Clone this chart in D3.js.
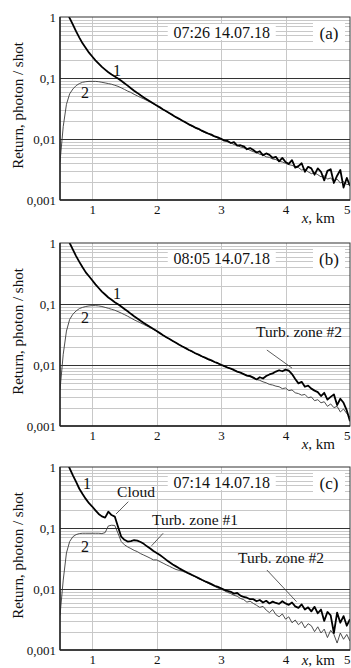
<!DOCTYPE html>
<html>
<head>
<meta charset="utf-8">
<script src="https://cdn.jsdelivr.net/npm/d3@7"></script>
<style>
  body { margin: 0; background: #fff; }
  svg { display: block; }
  svg text { font-family: 'Liberation Serif', 'Times New Roman', 'DejaVu Serif', serif; }
</style>
</head>
<body>
<div id="chart"></div>
<script>
// range grid, km
const rangeKm = d3.range(50, 501, 5).map(v => v / 100);

const yTicks = [1, 0.1, 0.01, 0.001];
const xTicks = [1, 2, 3, 4, 5];

// panel (a) 07:26 14.07.18
const aSig1 = [
  2.4, 1.75, 1.28, 0.96, 0.75, 0.58, 0.46, 0.37, 0.31, 0.26,
  0.225, 0.195, 0.172, 0.152, 0.137, 0.124, 0.114, 0.106, 0.098, 0.090,
  0.082, 0.075, 0.068, 0.062, 0.057, 0.052, 0.048, 0.0445, 0.0412, 0.0382,
  0.0355, 0.033, 0.0305, 0.0284, 0.0264, 0.0246, 0.0228, 0.0214, 0.0199, 0.0187,
  0.0174, 0.0164, 0.0154, 0.0147, 0.0137, 0.0130, 0.0123, 0.0118, 0.0110, 0.0106,
  0.0101, 0.0094, 0.0093, 0.0086, 0.0089, 0.0078, 0.0079, 0.0076, 0.0068, 0.0071,
  0.0066, 0.0060, 0.0063, 0.0054, 0.0058, 0.0055, 0.0049, 0.0051, 0.0043, 0.0049,
  0.0042, 0.0039, 0.0045, 0.0034, 0.0036, 0.0040, 0.0029, 0.0035, 0.0033, 0.0026,
  0.0033, 0.0029, 0.0021, 0.0030, 0.0032, 0.0019, 0.0025, 0.0031, 0.0016, 0.0023,
  0.0017
];
const aSig2 = [
  0.0042, 0.016, 0.037, 0.055, 0.066, 0.075, 0.081, 0.085, 0.087, 0.088,
  0.088, 0.088, 0.087, 0.085, 0.083, 0.081, 0.079, 0.076, 0.073, 0.069,
  0.065, 0.061, 0.058, 0.054, 0.051, 0.048, 0.0455, 0.0428, 0.0402, 0.0378,
  0.0352, 0.0327, 0.0303, 0.0282, 0.0262, 0.0244, 0.0227, 0.0212, 0.0198, 0.0185,
  0.0171, 0.0162, 0.0150, 0.0144, 0.0134, 0.0127, 0.0121, 0.0114, 0.0110, 0.0103,
  0.0099, 0.0095, 0.0090, 0.0087, 0.0081, 0.0079, 0.0074, 0.0072, 0.0070, 0.0065,
  0.0062, 0.0060, 0.0056, 0.0055, 0.0051, 0.0050, 0.0047, 0.0046, 0.0043, 0.0042,
  0.0040, 0.0038, 0.0037, 0.0035, 0.0034, 0.0031, 0.0032, 0.0029, 0.0027, 0.0028,
  0.0026, 0.0024, 0.0025, 0.0022, 0.0023, 0.0020, 0.0022, 0.0019, 0.0020, 0.0018,
  0.0018
];

// panel (b) 08:05 14.07.18
const bSig1 = [
  2.5, 1.8, 1.32, 1.0, 0.78, 0.61, 0.49, 0.40, 0.33, 0.285,
  0.245, 0.21, 0.183, 0.16, 0.143, 0.128, 0.117, 0.107, 0.099, 0.091,
  0.083, 0.076, 0.069, 0.063, 0.058, 0.053, 0.049, 0.0452, 0.0418, 0.0388,
  0.036, 0.0333, 0.0308, 0.0286, 0.0266, 0.0248, 0.0231, 0.0215, 0.0201, 0.0189,
  0.0176, 0.0167, 0.0156, 0.0148, 0.0139, 0.0132, 0.0125, 0.0119, 0.0112, 0.0107,
  0.0101, 0.0096, 0.0091, 0.0087, 0.0083, 0.0078, 0.0075, 0.0071, 0.0067, 0.0066,
  0.0062, 0.0058, 0.0063, 0.0060, 0.0066, 0.0070, 0.0073, 0.0078, 0.0082, 0.0079,
  0.0084, 0.0081, 0.0071, 0.0059, 0.0050, 0.0053, 0.0044, 0.0046, 0.0041, 0.0038,
  0.0036, 0.0031, 0.0035, 0.0027, 0.0030, 0.0033, 0.0022, 0.0028, 0.0024, 0.0018,
  0.0012
];
const bSig2 = [
  0.0039, 0.015, 0.036, 0.056, 0.068, 0.077, 0.084, 0.088, 0.091, 0.093,
  0.094, 0.094, 0.093, 0.091, 0.088, 0.085, 0.082, 0.079, 0.075, 0.071,
  0.067, 0.063, 0.059, 0.055, 0.052, 0.049, 0.0462, 0.0435, 0.041, 0.0385,
  0.0358, 0.0332, 0.0307, 0.0285, 0.0266, 0.0247, 0.023, 0.0215, 0.0201, 0.0187,
  0.0175, 0.0165, 0.0154, 0.0147, 0.0137, 0.0131, 0.0122, 0.0117, 0.0111, 0.0105,
  0.0100, 0.0095, 0.0090, 0.0087, 0.0081, 0.0078, 0.0075, 0.0071, 0.0067, 0.0064,
  0.0061, 0.0058, 0.0056, 0.0053, 0.0051, 0.0048, 0.0047, 0.0045, 0.0044, 0.0041,
  0.0042, 0.0038, 0.0039, 0.0035, 0.0034, 0.0032, 0.0033, 0.0029, 0.0030, 0.0026,
  0.0027, 0.0024, 0.0025, 0.0021, 0.0023, 0.0020, 0.0021, 0.0017, 0.0019, 0.0016,
  0.0014
];

// panel (c) 07:14 14.07.18
const cSig1 = [
  2.3, 1.7, 1.25, 0.95, 0.73, 0.57, 0.44, 0.36, 0.30, 0.255,
  0.225, 0.195, 0.170, 0.155, 0.148, 0.185, 0.163, 0.154, 0.105, 0.072,
  0.064, 0.060, 0.061, 0.063, 0.062, 0.059, 0.055, 0.050, 0.046, 0.042,
  0.039, 0.036, 0.033, 0.030, 0.0275, 0.0253, 0.0235, 0.0218, 0.0204, 0.0192,
  0.0180, 0.0170, 0.0160, 0.0151, 0.0142, 0.0134, 0.0127, 0.0120, 0.0113, 0.0108,
  0.0103, 0.0097, 0.0093, 0.0090, 0.0084, 0.0086, 0.0078, 0.0074, 0.0072, 0.0068,
  0.0068, 0.0063, 0.0066, 0.0060, 0.0064, 0.0058, 0.0062, 0.0059, 0.0057, 0.0063,
  0.0058, 0.0055, 0.0060, 0.0052, 0.0049, 0.0056, 0.0046, 0.0050, 0.0043, 0.0051,
  0.0040, 0.0046, 0.0030, 0.0042, 0.0037, 0.0019, 0.0041, 0.0028, 0.0036, 0.0025,
  0.0032
];
const cSig2 = [
  0.0037, 0.014, 0.039, 0.060, 0.072, 0.078, 0.081, 0.082, 0.082, 0.082,
  0.082, 0.082, 0.082, 0.081, 0.084, 0.108, 0.111, 0.110, 0.082, 0.060,
  0.053, 0.049, 0.046, 0.043, 0.041, 0.038, 0.036, 0.034, 0.032, 0.030,
  0.030, 0.0282, 0.0265, 0.0249, 0.0235, 0.0221, 0.0209, 0.0202, 0.0196, 0.0186,
  0.0177, 0.0167, 0.0158, 0.0148, 0.0140, 0.0131, 0.0124, 0.0117, 0.0110, 0.0104,
  0.0099, 0.0094, 0.0088, 0.0084, 0.0079, 0.0076, 0.0070, 0.0067, 0.0061, 0.0063,
  0.0058, 0.0054, 0.0050, 0.0052, 0.0045, 0.0041, 0.0046, 0.0038, 0.0035, 0.0039,
  0.0032, 0.0035, 0.0028, 0.0031, 0.0026, 0.0029, 0.0023, 0.0027, 0.0025, 0.0020,
  0.0024, 0.0019, 0.0022, 0.0016, 0.0021, 0.0018, 0.0013, 0.0019, 0.0015, 0.0018,
  0.0014
];

const panelLetters = ['(a)', '(b)', '(c)'];
const panelDates = ['07:26 14.07.18', '08:05 14.07.18', '07:14 14.07.18'];

// text notes in data units: [text, km, value]
const curveLabels = [
  [['1', 1.385, 0.135], ['2', 0.888, 0.057]],
  [['1', 1.385, 0.151], ['2', 0.888, 0.061]],
  [['1', 0.919, 0.547], ['2', 0.888, 0.049]]
];
const zoneNotes = [
  [],
  [['Turb. zone #2', 4.21, 0.0348, [3.71, 0.0176], [4.1, 0.0089]]],
  [['Cloud', 1.68, 0.389, [1.56, 0.27], [1.37, 0.17]],
   ['Turb. zone #1', 2.595, 0.135, [2.10, 0.082], [1.92, 0.051]],
   ['Turb. zone #2', 3.93, 0.0322, [3.71, 0.0205], [4.17, 0.0062]]]
];

const panels = [
  { sig1: aSig1, sig2: aSig2 },
  { sig1: bSig1, sig2: bSig2 },
  { sig1: cSig1, sig2: cSig2 }
];

const W = 351, H = 668;
const margin = { left: 60, right: 1 };
const tops = [17, 243, 467];
const plotH = 183;
const serif = "'Liberation Serif', 'Times New Roman', 'DejaVu Serif', serif";

const svg = d3.select('#chart').append('svg').attr('width', W).attr('height', H)
  .attr('font-family', serif);

const x = d3.scaleLinear().domain([0.5, 5]).range([margin.left, W - margin.right]);
const yFmt = d3.formatLocale({ decimal: ',', thousands: ' ', grouping: [3], currency: ['', ''] }).format('~g');

panels.forEach((p, i) => {
  const top = tops[i];
  const y = d3.scaleLog().domain([0.001, 1]).range([top + plotH, top]);
  const g = svg.append('g');

  // minor grid
  const minor = [];
  [0.001, 0.01, 0.1].forEach(d => { for (let k = 2; k <= 9; k++) minor.push(d * k); });
  g.selectAll('.minor').data(minor).enter().append('line')
    .attr('x1', x(0.5)).attr('x2', x(5))
    .attr('y1', d => Math.round(y(d)) + 0.5).attr('y2', d => Math.round(y(d)) + 0.5)
    .attr('stroke', '#c8c8c8').attr('stroke-width', 1);

  g.selectAll('.vgrid').data([1, 2, 3, 4]).enter().append('line')
    .attr('x1', d => Math.round(x(d)) + 0.5).attr('x2', d => Math.round(x(d)) + 0.5)
    .attr('y1', y(1)).attr('y2', y(0.001))
    .attr('stroke', '#c8c8c8').attr('stroke-width', 1);

  g.selectAll('.major').data([0.1, 0.01]).enter().append('line')
    .attr('x1', x(0.5)).attr('x2', x(5))
    .attr('y1', d => Math.round(y(d)) + 0.5).attr('y2', d => Math.round(y(d)) + 0.5)
    .attr('stroke', '#333').attr('stroke-width', 1);

  // date box and letter box
  const dateX = x(3.01), dateY = top + 15;
  g.append('rect').attr('x', dateX - 54).attr('y', dateY - 8).attr('width', 108).attr('height', 16).attr('fill', '#fff');
  g.append('text').attr('x', dateX).attr('y', dateY).attr('dy', '0.35em')
    .attr('text-anchor', 'middle').attr('font-size', 16).attr('fill', '#111').text(panelDates[i]);
  g.append('rect').attr('x', 313).attr('y', top + 6).attr('width', 32).attr('height', 20).attr('fill', '#fff');
  g.append('text').attr('x', 329).attr('y', top + 16).attr('dy', '0.35em')
    .attr('text-anchor', 'middle').attr('font-size', 17).attr('fill', '#111').text(panelLetters[i]);

  // curves
  const clipId = 'clip' + i;
  svg.append('clipPath').attr('id', clipId).append('rect')
    .attr('x', x(0.5)).attr('y', top).attr('width', x(5) - x(0.5)).attr('height', plotH);

  const line = d3.line().x((d, j) => x(rangeKm[j])).y(d => y(d));
  const curves = g.append('g').attr('clip-path', `url(#${clipId})`);
  curves.append('path').datum(p.sig2).attr('d', line)
    .attr('fill', 'none').attr('stroke', '#3a3a3a').attr('stroke-width', 0.9);
  curves.append('path').datum(p.sig1).attr('d', line)
    .attr('fill', 'none').attr('stroke', '#000').attr('stroke-width', 1.8).attr('stroke-linejoin', 'round');

  // frame
  g.append('rect').attr('x', x(0.5)).attr('y', y(1)).attr('width', x(5) - x(0.5)).attr('height', plotH)
    .attr('fill', 'none').attr('stroke', '#333').attr('stroke-width', 1);
  g.append('line').attr('x1', x(0.5)).attr('x2', x(5)).attr('y1', y(0.001)).attr('y2', y(0.001))
    .attr('stroke', '#222').attr('stroke-width', 1.6);
  g.append('line').attr('x1', x(0.5)).attr('x2', x(0.5)).attr('y1', y(1)).attr('y2', y(0.001))
    .attr('stroke', '#222').attr('stroke-width', 1.4);

  // axes
  g.append('g').attr('transform', `translate(${x(0.5)},0)`)
    .call(d3.axisLeft(y).tickValues(yTicks).tickFormat(yFmt).tickSize(0).tickPadding(4))
    .call(a => a.select('.domain').remove())
    .call(a => a.attr('font-family', serif))
    .call(a => a.selectAll('text').attr('font-size', 13).attr('fill', '#111'));

  g.append('g').attr('transform', `translate(0,${y(0.001)})`)
    .call(d3.axisBottom(x).tickValues(xTicks).tickFormat(d3.format('d')).tickSize(0).tickPadding(5))
    .call(a => a.select('.domain').remove())
    .call(a => a.attr('font-family', serif))
    .call(a => a.selectAll('text').attr('font-size', 13).attr('fill', '#111'))
    .call(a => a.selectAll('.tick').filter(d => d === 5).select('text').attr('text-anchor', 'end'));

  const xl = g.append('text').attr('x', 335).attr('y', Math.min(y(0.001) + 23, H - 3))
    .attr('text-anchor', 'end').attr('font-size', 15).attr('fill', '#111');
  xl.append('tspan').attr('font-style', 'italic').text('x');
  xl.append('tspan').text(', km');

  g.append('text').attr('transform', `translate(18,${top + plotH / 2 - 3}) rotate(-90)`)
    .attr('dy', '0.35em').attr('text-anchor', 'middle').attr('font-size', 15).attr('fill', '#111')
    .text('Return, photon / shot');

  // curve labels
  g.selectAll('.clab').data(curveLabels[i]).enter().append('text')
    .attr('x', d => x(d[1])).attr('y', d => y(d[2])).attr('dy', '0.35em')
    .attr('text-anchor', 'middle').attr('font-size', 16).attr('fill', '#111').text(d => d[0]);

  // zone notes with leaders
  zoneNotes[i].forEach(n => {
    g.append('line')
      .attr('x1', x(n[3][0])).attr('y1', y(n[3][1])).attr('x2', x(n[4][0])).attr('y2', y(n[4][1]))
      .attr('stroke', '#333').attr('stroke-width', 0.8);
    g.append('text').attr('x', x(n[1])).attr('y', y(n[2])).attr('dy', '0.35em')
      .attr('text-anchor', 'middle').attr('font-size', 15.5).attr('fill', '#111').text(n[0]);
  });
});
</script>
</body>
</html>
